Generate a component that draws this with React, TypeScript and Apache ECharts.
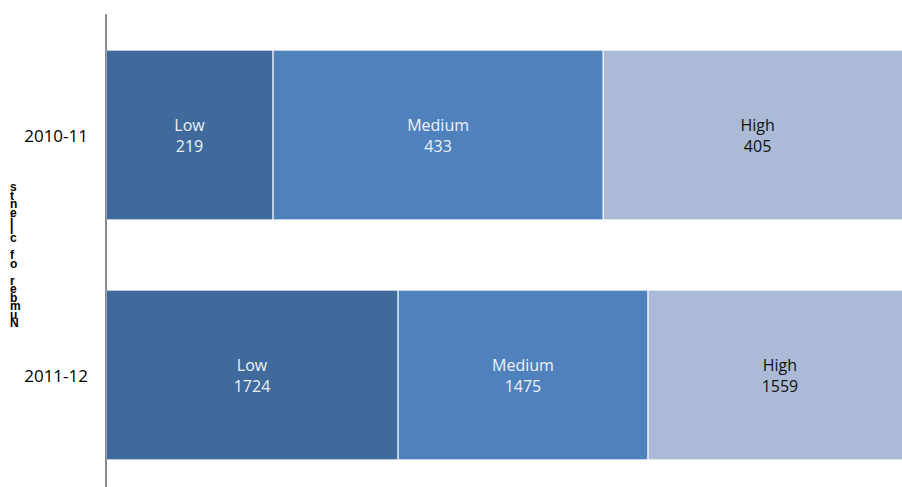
import React, { useEffect, useRef } from "react";
import * as echarts from "echarts";

const categories = ["2010-11", "2011-12"];
const seriesNames = ["Low", "Medium", "High"];
const lowValues = [219, 1724];
const mediumValues = [433, 1475];
const highValues = [405, 1559];
const axisTitle = "Number of clients";

const colors = ["#3F6A9B", "#4F81BD", "#AABAD7"];
const labelColors = ["#EEF2F8", "#EEF2F8", "#111111"];

export default function App() {
  const ref = useRef<HTMLDivElement>(null);
  useEffect(() => {
    document.body.style.margin = "0";
    if (!ref.current) return;
    const chart = echarts.init(ref.current, null, { renderer: "svg" });
    const all = [lowValues, mediumValues, highValues];
    const totals = categories.map((_, i) => all.reduce((s, arr) => s + arr[i], 0));
    const reversed = axisTitle.split("").reverse().join("\n");
    chart.setOption({
      animation: false,
      grid: { left: 106, top: 15, width: 806, height: 480 },
      xAxis: { type: "value", min: 0, max: 100, show: false },
      yAxis: {
        type: "category",
        data: categories,
        inverse: true,
        axisLine: { show: true, lineStyle: { color: "#8a8a8a", width: 2 } },
        axisTick: { show: false },
        axisLabel: { color: "#000", fontSize: 17, margin: 18, fontFamily: "Open Sans" },
      },
      graphic: [
        {
          type: "text",
          left: 10,
          top: 181,
          style: {
            text: reversed,
            fontSize: 12,
            fontWeight: "bold",
            lineHeight: 8.5,
            fill: "#000",
            fontFamily: "Liberation Sans",
            align: "center",
          },
        },
      ],
      series: all.map((arr, si) => ({
        name: seriesNames[si],
        type: "bar",
        stack: "total",
        barWidth: 170,
        data: arr.map((v, i) => ({ value: (v / totals[i]) * 100, raw: v })),
        itemStyle: { color: colors[si], borderColor: "rgba(255,255,255,0.3)", borderWidth: 1 },
        label: {
          show: true,
          position: "inside",
          formatter: (p: any) => `${p.seriesName}\n${p.data.raw}`,
          color: labelColors[si],
          fontSize: 16,
          lineHeight: 21,
          fontFamily: "Open Sans",
        },
      })),
    });
    return () => chart.dispose();
  }, []);
  return (
    <div style={{ width: 902, height: 487, overflow: "hidden", position: "relative" }}>
      <div ref={ref} style={{ width: 916, height: 495 }} />
    </div>
  );
}
